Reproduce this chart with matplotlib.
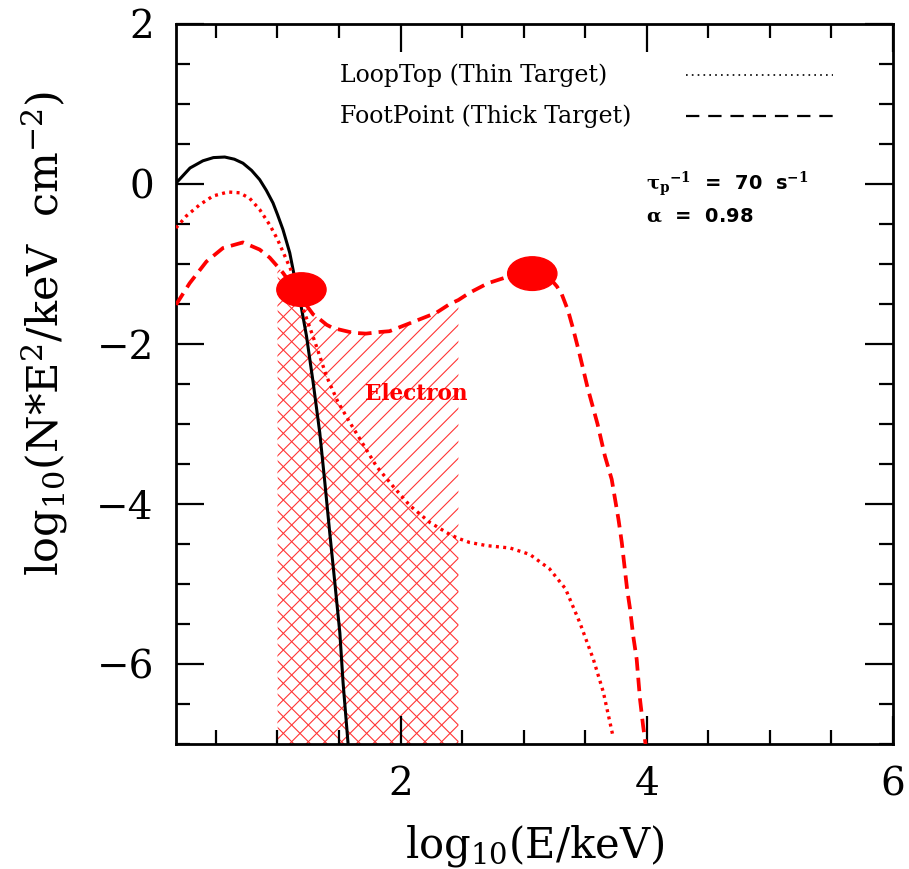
import numpy as np
import matplotlib
matplotlib.use("Agg")
import matplotlib.pyplot as plt
from matplotlib.patches import Ellipse
from matplotlib.ticker import MultipleLocator

plt.rcParams['font.family'] = 'DejaVu Serif'
plt.rcParams['mathtext.fontset'] = 'dejavuserif'
plt.rcParams['hatch.linewidth'] = 0.8

# thermal spectrum (black solid)
x_th = [0.176, 0.29, 0.395, 0.48, 0.572, 0.65, 0.72, 0.79, 0.856, 0.91, 0.964, 1.0,
        1.045, 1.10, 1.132, 1.195, 1.236, 1.29, 1.344, 1.385, 1.425, 1.466, 1.507, 1.533, 1.574]
y_th = [0.01, 0.20, 0.29, 0.33, 0.337, 0.31, 0.26, 0.17, 0.054, -0.08, -0.237, -0.38,
        -0.57, -0.86, -1.11, -1.55, -1.90, -2.48, -3.11, -3.73, -4.36, -4.98, -5.61, -6.23, -7.0]

# loop top, thin target (red dotted)
x_lt = [0.176, 0.26, 0.368, 0.477, 0.598, 0.693, 0.775, 0.856, 0.937, 1.0, 1.06, 1.114,
        1.22, 1.26, 1.317, 1.398, 1.49, 1.588, 1.683, 1.805, 1.94, 2.076, 2.238, 2.40, 2.47,
        2.56, 2.70, 2.89, 3.05, 3.21, 3.34, 3.458, 3.566, 3.647, 3.728]
y_lt = [-0.55, -0.40, -0.26, -0.15, -0.10, -0.11, -0.18, -0.32, -0.51, -0.69, -0.90, -1.09,
        -1.61, -1.78, -2.03, -2.40, -2.72, -2.98, -3.22, -3.53, -3.78, -4.02, -4.23, -4.38, -4.43,
        -4.48, -4.52, -4.55, -4.63, -4.81, -5.06, -5.49, -5.94, -6.35, -6.92]

# foot point, thick target (red dashed)
x_fp = [0.176, 0.287, 0.423, 0.558, 0.72, 0.856, 0.937, 1.0, 1.045, 1.17, 1.29, 1.344,
        1.40, 1.45, 1.56, 1.615, 1.72, 1.83, 1.91, 2.076, 2.29, 2.40, 2.47, 2.56, 2.71,
        2.85, 3.0, 3.07, 3.15, 3.22, 3.27, 3.31, 3.36, 3.40, 3.45, 3.52, 3.60, 3.66, 3.715,
        3.77, 3.797, 3.84, 3.864, 3.89, 3.918, 3.945, 3.97, 3.99]
y_fp = [-1.51, -1.24, -0.97, -0.80, -0.73, -0.82, -0.92, -1.03, -1.11, -1.38, -1.63, -1.69,
        -1.76, -1.80, -1.84, -1.86, -1.87, -1.85, -1.84, -1.74, -1.61, -1.50, -1.45, -1.36, -1.24,
        -1.17, -1.10, -1.09, -1.12, -1.19, -1.28, -1.38, -1.58, -1.80, -2.10, -2.55, -3.0, -3.4,
        -3.69, -4.19, -4.48, -5.06, -5.31, -5.65, -5.94, -6.44, -6.77, -7.0]

# hatched energy band and markers
band = (1.0, 2.47)
blob_x = [1.195, 3.07]
blob_y = [-1.32, -1.12]

fig = plt.figure(figsize=(9.09, 8.69), dpi=100)
ax = fig.add_axes([0.1936, 0.1438, 0.7888, 0.8286])

xf = np.array(x_fp); yf = np.array(y_fp)
xl = np.array(x_lt); yl = np.array(y_lt)
mf = (xf >= band[0]) & (xf <= band[1])
ml = (xl >= band[0]) & (xl <= band[1])
hcol = '#ff3535'
p1 = ax.fill_between(xf[mf], -7, yf[mf], facecolor='none', edgecolor=hcol,
                     hatch='//', linewidth=0, zorder=1)
p2 = ax.fill_between(xl[ml], -7, yl[ml], facecolor='none', edgecolor=hcol,
                     hatch='\\\\', linewidth=0, zorder=1)
p2.set_clip_path(p1.get_paths()[0], transform=ax.transData)

ax.plot(x_th, y_th, color='black', lw=2.2, zorder=3)
ax.plot(x_lt, y_lt, color='red', lw=2.4, linestyle=(0, (0.9, 1.3)), zorder=3)
ax.plot(x_fp, y_fp, color='red', lw=2.7, linestyle=(0, (3.6, 1.9)), zorder=3)

for bx, by in zip(blob_x, blob_y):
    ax.add_patch(Ellipse((bx, by), 0.40, 0.42, color='red', zorder=4))

# legend drawn by hand like the original
ax.text(1.507, 1.365, 'LoopTop (Thin Target)', fontsize=17, va='center', ha='left')
ax.text(1.507, 0.853, 'FootPoint (Thick Target)', fontsize=17, va='center', ha='left')
ax.plot([4.32, 5.51], [1.365, 1.365], color='black', lw=1.2, linestyle=(0, (1, 2.5)))
ax.plot([4.32, 5.51], [0.853, 0.853], color='black', lw=1.6, linestyle=(0, (6, 4)))

ax.text(3.99, 0.0, r'$\mathbf{\tau_p}^{\mathbf{-1}}$  =  70  s$^{\mathbf{-1}}$', fontsize=14,
        fontweight='bold', family='DejaVu Sans', va='center')
ax.text(3.99, -0.40, r'$\mathbf{\alpha}$  =  0.98', fontsize=14, fontweight='bold',
        family='DejaVu Sans', va='center')
ax.text(1.71, -2.63, 'Electron', color='red', fontsize=15.5, fontweight='bold', va='center')

ax.set_xlim(0.176, 6)
ax.set_ylim(-7, 2)
ax.xaxis.set_major_locator(MultipleLocator(2))
ax.xaxis.set_minor_locator(MultipleLocator(0.5))
ax.yaxis.set_major_locator(MultipleLocator(2))
ax.yaxis.set_minor_locator(MultipleLocator(0.5))
ax.tick_params(which='both', direction='in', top=True, right=True, width=1.6, labelsize=28)
ax.tick_params(which='major', length=20, pad=16)
ax.tick_params(which='minor', length=10)
for s in ax.spines.values():
    s.set_linewidth(2)

ax.set_xlabel(r'log$_{10}$(E/keV)', fontsize=30, labelpad=14)
ax.set_ylabel(r'log$_{10}$(N*E$^2$/keV  cm$^{-2}$)', fontsize=31, va='center')
ax.yaxis.set_label_coords(-0.183, 0.571)

fig.savefig('out.png', dpi=100)
